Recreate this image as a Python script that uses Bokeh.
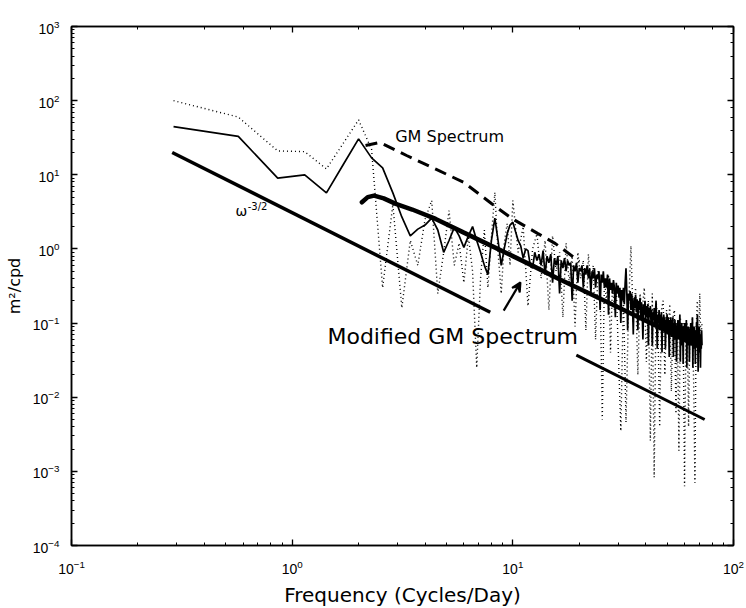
from bokeh.plotting import figure
from bokeh.models import Range1d, LogAxis, Label, Arrow, VeeHead
from bokeh.embed import file_html
from bokeh.resources import INLINE

# ---------------- data ----------------
# low-frequency bins (both spectra)
freq_lo = [0.29, 0.57, 0.86, 1.14, 1.43, 1.71, 2.0, 2.29, 2.57, 2.86, 3.14, 3.43, 3.71, 4.0, 4.29,
           4.57, 4.86, 5.14, 5.43, 5.71, 6.0, 6.29, 6.57, 6.86, 7.14, 7.43, 7.71, 8.0, 8.29, 8.57,
           8.86, 9.14, 9.43, 9.71, 10.0]
solid_lo = [44.7, 33.0, 9.0, 10.0, 5.7, 14.0, 30.5, 16.9, 12.4, 5.7, 2.7, 1.5, 1.85, 2.1, 2.6,
            1.8, 0.9, 1.3, 1.95, 1.5, 1.05, 1.5, 2.0, 1.3, 0.9, 0.6, 0.45, 1.3, 2.6, 1.3,
            0.6, 1.0, 1.6, 2.1, 2.3]
dotted_lo = [100, 60, 21, 20.5, 12, 27, 55, 22, 0.3, 4.0, 0.16, 1.3, 0.6, 2.5, 4.5,
             0.25, 0.9, 3.3, 0.6, 1.2, 0.35, 1.5, 0.5, 0.025, 0.4, 1.8, 0.3, 1.5, 5.8, 0.9,
             0.25, 1.2, 2.2, 0.6, 4.5]

# high-frequency part of the solid spectrum (every bin)
freq_solid_hi = [
    10.29, 10.57, 10.86, 11.14, 11.43, 11.71, 12.0, 12.29, 12.57, 12.86, 13.14, 13.43, 13.71, 14.0,
    14.29, 14.57, 14.86, 15.14, 15.43, 15.71, 16.0, 16.29, 16.57, 16.86, 17.14, 17.43, 17.71, 18.0,
    18.29, 18.57, 18.86, 19.14, 19.43, 19.71, 20.0, 20.29, 20.57, 20.86, 21.14, 21.43, 21.71, 22.0,
    22.29, 22.57, 22.86, 23.14, 23.43, 23.71, 24.0, 24.29, 24.57, 24.86, 25.14, 25.43, 25.71, 26.0,
    26.29, 26.57, 26.86, 27.14, 27.43, 27.71, 28.0, 28.29, 28.57, 28.86, 29.14, 29.43, 29.71, 30.0,
    30.29, 30.57, 30.86, 31.14, 31.43, 31.71, 32.0, 32.29, 32.57, 32.86, 33.14, 33.43, 33.71, 34.0,
    34.29, 34.57, 34.86, 35.14, 35.43, 35.71, 36.0, 36.29, 36.57, 36.86, 37.14, 37.43, 37.71, 38.0,
    38.29, 38.57, 38.86, 39.14, 39.43, 39.71, 40.0, 40.29, 40.57, 40.86, 41.14, 41.43, 41.71, 42.0,
    42.29, 42.57, 42.86, 43.14, 43.43, 43.71, 44.0, 44.29, 44.57, 44.86, 45.14, 45.43, 45.71, 46.0,
    46.29, 46.57, 46.86, 47.14, 47.43, 47.71, 48.0, 48.29, 48.57, 48.86, 49.14, 49.43, 49.71, 50.0,
    50.29, 50.57, 50.86, 51.14, 51.43, 51.71, 52.0, 52.29, 52.57, 52.86, 53.14, 53.43, 53.71, 54.0,
    54.29, 54.57, 54.86, 55.14, 55.43, 55.71, 56.0, 56.29, 56.57, 56.86, 57.14, 57.43, 57.71, 58.0,
    58.29, 58.57, 58.86, 59.14, 59.43, 59.71, 60.0, 60.29, 60.57, 60.86, 61.14, 61.43, 61.71, 62.0,
    62.29, 62.57, 62.86, 63.14, 63.43, 63.71, 64.0, 64.29, 64.57, 64.86, 65.14, 65.43, 65.71, 66.0,
    66.29, 66.57, 66.86, 67.14, 67.43, 67.71, 68.0, 68.29, 68.57, 68.86, 69.14, 69.43, 69.71, 70.0,
    70.29, 70.57, 70.86, 71.14, 71.43, 71.71, 72.0]
solid_hi = [
    1.7, 1.3, 1.1, 0.75, 1.0, 0.95, 0.6,
    0.55, 0.9, 0.7, 0.85, 0.6, 0.95, 0.45,
    0.8, 0.65, 0.85, 0.35, 0.75, 0.6, 0.8,
    0.25, 0.7, 0.55, 0.75, 0.5, 0.7, 0.6,
    0.65, 0.2, 0.6, 0.5, 0.65, 0.35, 0.55,
    0.5, 0.6, 0.3, 0.55, 0.45, 0.6, 0.4,
    0.55, 0.25, 0.5, 0.4, 0.55, 0.3, 0.45,
    0.4, 0.5, 0.15, 0.45, 0.35, 0.5, 0.3,
    0.4, 0.3, 0.45, 0.13, 0.4, 0.28, 0.35,
    0.25, 0.38, 0.3, 0.12, 0.35, 0.25, 0.32,
    0.22, 0.3, 0.1, 0.28, 0.2, 0.3, 0.18,
    0.35, 0.55, 0.25, 0.08, 0.25, 0.2, 0.27,
    0.15, 0.25, 0.18, 0.07, 0.22, 0.16, 0.24,
    0.14, 0.21, 0.08, 0.2, 0.15, 0.22, 0.12,
    0.19, 0.14, 0.06, 0.18, 0.13, 0.2, 0.11,
    0.17, 0.12, 0.18, 0.05, 0.16, 0.12, 0.17,
    0.1, 0.15, 0.05, 0.14, 0.11, 0.16, 0.09,
    0.14, 0.2, 0.1, 0.045, 0.13, 0.1, 0.15,
    0.08, 0.13, 0.09, 0.14, 0.04, 0.12, 0.09,
    0.13, 0.08, 0.12, 0.045, 0.11, 0.085, 0.13,
    0.07, 0.12, 0.09, 0.035, 0.11, 0.08, 0.12,
    0.065, 0.11, 0.08, 0.12, 0.035, 0.1, 0.075,
    0.11, 0.06, 0.1, 0.03, 0.09, 0.07, 0.11,
    0.06, 0.1, 0.075, 0.13, 0.03, 0.09, 0.065,
    0.1, 0.05, 0.09, 0.028, 0.085, 0.065, 0.1,
    0.055, 0.09, 0.07, 0.11, 0.025, 0.08, 0.06,
    0.09, 0.05, 0.085, 0.03, 0.08, 0.06, 0.1,
    0.05, 0.085, 0.065, 0.12, 0.025, 0.075, 0.055,
    0.09, 0.045, 0.08, 0.028, 0.07, 0.055, 0.1,
    0.05, 0.13, 0.06, 0.022, 0.075, 0.05, 0.09,
    0.04, 0.07, 0.025, 0.065, 0.045, 0.08, 0.05]

# high-frequency part of the dotted spectrum
freq_dotted_hi = [
    10.57, 11.14, 11.71, 12.29, 12.86, 13.43, 14.0, 14.57, 15.14, 15.71, 16.29, 16.86, 17.43,
    18.0, 18.57, 19.14, 19.71, 20.29, 20.86, 21.43, 22.0, 22.57, 23.14, 23.71, 24.29, 24.86,
    25.43, 26.0, 26.57, 27.14, 27.71, 28.29, 28.86, 29.43, 30.0,
    30.86, 31.71, 32.57, 33.43, 34.29, 35.14, 36.0, 36.86, 37.71, 38.57, 39.43, 40.29, 41.14,
    42.0, 42.86, 43.71, 44.57, 45.43, 46.29, 47.14, 48.0, 48.86, 49.71, 50.57, 51.43, 52.29,
    53.14, 54.0, 54.86, 55.71, 56.57, 57.43, 58.29, 59.14, 60.0, 60.86, 61.71, 62.57, 63.43,
    64.29, 65.14, 66.0, 66.86, 67.71, 68.57, 69.43, 70.29, 71.14, 72.0]
dotted_hi = [
    0.9, 2.0, 0.17, 1.0, 1.6, 0.4, 1.3, 0.15, 1.5, 0.5, 0.9, 0.12, 1.2, 0.35, 0.8,
    0.09, 0.9, 0.4, 0.7, 0.08, 0.85, 0.3, 0.6, 0.06, 0.5, 0.3, 0.005, 0.4, 0.2, 0.45,
    0.04, 0.35, 0.15, 0.3, 0.05,
    0.0035, 0.25, 0.0046, 0.15, 1.1, 0.1, 0.3, 0.02, 0.25, 0.15, 0.3, 0.03, 0.2, 0.0026,
    0.25, 0.00083, 0.2, 0.1, 0.004, 0.15, 0.2, 0.02, 0.15, 0.08, 0.18, 0.012, 0.12, 0.15,
    0.006, 0.1, 0.0019, 0.12, 0.05, 0.1, 0.00063, 0.08, 0.1, 0.004, 0.09, 0.05, 0.12,
    0.015, 0.0007, 0.08, 0.2, 0.03, 0.25, 0.06, 0.1]

gm_freq = [2.15, 2.5, 3.3, 4.5, 6.0, 8.0, 9.9, 13.0, 15.6, 20.0]
gm_spec = [24.8, 27.3, 18.2, 11.8, 7.9, 4.1, 2.57, 1.61, 1.18, 0.68]

mod_freq = [2.07, 2.2, 2.35, 2.6, 2.95, 3.5, 4.47, 6.0, 8.0, 10.0, 12.2, 16.0, 22.0, 30.0,
            42.0, 55.0, 70.0]
mod_spec = [4.26, 5.0, 5.24, 4.8, 4.05, 3.4, 2.54, 1.66, 1.1, 0.80, 0.60, 0.40, 0.255, 0.163,
            0.10, 0.068, 0.048]

slope_freq_a = [0.286, 7.9]
slope_spec_a = [20.0, 0.14]
slope_freq_b = [19.4, 74.0]
slope_spec_b = [0.037, 0.005]

# ---------------- figure ----------------
p = figure(frame_width=662, frame_height=519,
           x_axis_type="log", y_axis_type="log",
           x_range=Range1d(0.1, 100), y_range=Range1d(1e-4, 1e3),
           output_backend="svg", toolbar_location=None,
           min_border_left=71, min_border_top=26, min_border_right=12, min_border_bottom=58)
p.xgrid.visible = False
p.ygrid.visible = False
p.outline_line_color = "black"
p.outline_line_width = 1.5
p.background_fill_color = "white"
p.border_fill_color = "white"

xb = p.xaxis[0]
yl = p.yaxis[0]

def style_axis(ax):
    ax.major_tick_in = 6
    ax.major_tick_out = 0
    ax.minor_tick_in = 3
    ax.minor_tick_out = 0
    ax.axis_line_color = "black"
    ax.axis_line_width = 1.5
    ax.major_tick_line_color = "black"
    ax.major_tick_line_width = 1.3
    ax.minor_tick_line_color = "black"
    ax.minor_tick_line_width = 1.0
    ax.major_label_text_font = "Liberation Sans"
    ax.major_label_text_font_size = "14px"
    ax.major_label_text_color = "black"

style_axis(xb)
style_axis(yl)
xb.major_label_standoff = 14
yl.major_label_standoff = 12

xb.axis_label = "Frequency (Cycles/Day)"
xb.axis_label_text_font = "DejaVu Sans"
xb.axis_label_text_font_size = "20px"
xb.axis_label_text_font_style = "normal"
xb.axis_label_text_color = "black"
xb.axis_label_standoff = 6

yl.axis_label = "m²/cpd"
yl.axis_label_text_font = "DejaVu Sans"
yl.axis_label_text_font_size = "16px"
yl.axis_label_text_font_style = "normal"
yl.axis_label_text_color = "black"
yl.axis_label_standoff = 6

top_ax = LogAxis()
right_ax = LogAxis()
for ax in (top_ax, right_ax):
    style_axis(ax)
    ax.major_label_text_font_size = "1px"
    ax.major_label_text_alpha = 0
    ax.major_label_standoff = 0
p.add_layout(top_ax, "above")
p.add_layout(right_ax, "right")

# ---------------- lines ----------------
p.line(freq_lo + freq_dotted_hi, dotted_lo + dotted_hi,
       line_color="black", line_width=1.4, line_dash="1 3")
p.line(freq_lo + freq_solid_hi, solid_lo + solid_hi, line_color="black", line_width=1.7)
p.line(gm_freq, gm_spec, line_color="black", line_width=3, line_dash="12 7")
p.line(mod_freq, mod_spec, line_color="black", line_width=4.5, line_cap="round")
p.line(slope_freq_a, slope_spec_a, line_color="black", line_width=3.5)
p.line(slope_freq_b, slope_spec_b, line_color="black", line_width=3)

# ---------------- annotations ----------------
p.add_layout(Label(x=2.93, y=33.0, text="GM Spectrum", text_font="DejaVu Sans",
                   text_font_size="16px", text_baseline="alphabetic", text_color="black"))
p.add_layout(Label(x=0.553, y=3.28, text="ω", text_font="DejaVu Sans",
                   text_font_size="14px", text_baseline="alphabetic", text_color="black"))
p.add_layout(Label(x=0.629, y=3.78, text="-3/2", text_font="DejaVu Sans",
                   text_font_size="10px", text_baseline="alphabetic", text_color="black"))
p.add_layout(Label(x=1.445, y=0.0668, text="Modified GM Spectrum", text_font="DejaVu Sans",
                   text_font_size="22px", text_baseline="alphabetic", text_color="black"))
p.add_layout(Arrow(end=VeeHead(size=9, line_width=2, line_color="black", fill_color="black"),
                   x_start=9.09, y_start=0.147, x_end=10.83, y_end=0.354,
                   line_width=2.2, line_color="black"))

open("out.html", "w").write(file_html(p, INLINE))
